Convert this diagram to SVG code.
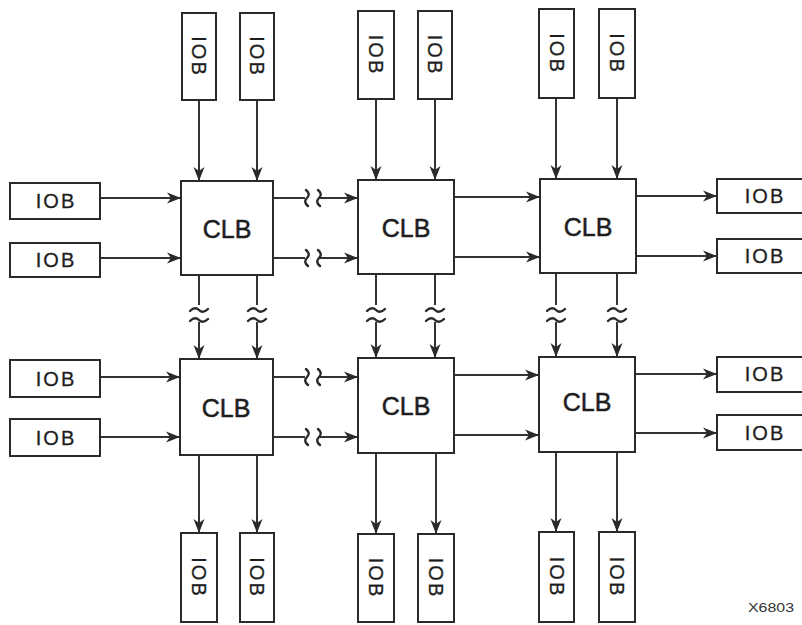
<svg xmlns="http://www.w3.org/2000/svg" xmlns:xlink="http://www.w3.org/1999/xlink" width="802" height="625" viewBox="0 0 802 625">
<style>
.box{fill:#fff;stroke:#2a2a2a;stroke-width:2}
.clbt{font-family:"Liberation Sans",Arial,sans-serif;font-size:25px;fill:#1e1e1e;text-anchor:middle;stroke:#1e1e1e;stroke-width:0.5}
.iobt{font-family:"Liberation Sans",Arial,sans-serif;font-size:20px;fill:#1e1e1e;text-anchor:middle;letter-spacing:2px;stroke:#1e1e1e;stroke-width:0.3}
.w{fill:none;stroke:#333;stroke-width:2}
.sq{fill:none;stroke:#2a2a2a;stroke-width:2.4;stroke-linecap:round}
.lbl{font-family:"Liberation Sans",Arial,sans-serif;font-size:13px;fill:#333}
</style>
<defs>
<marker id="arr" viewBox="0 0 14 12" refX="14" refY="6" markerWidth="14" markerHeight="12" orient="auto" markerUnits="userSpaceOnUse">
<path d="M0,0.5 L14,6 L0,11.5 L4,6 z" fill="#2a2a2a"/>
</marker>
<path id="vs" d="M-1,-8 Q4,-4 0,0 T1,8"/>
<path id="hs" d="M-9,1 Q-4,-4 0,0 T9,-1"/>
</defs>
<rect width="802" height="625" fill="#fff"/>

<g id="connectors">
<line class="w" x1="199" y1="100" x2="199" y2="181" marker-end="url(#arr)"/>
<line class="w" x1="257" y1="100" x2="257" y2="181" marker-end="url(#arr)"/>
<line class="w" x1="376" y1="99" x2="376" y2="180" marker-end="url(#arr)"/>
<line class="w" x1="435" y1="99" x2="435" y2="180" marker-end="url(#arr)"/>
<line class="w" x1="556" y1="98" x2="556" y2="179" marker-end="url(#arr)"/>
<line class="w" x1="617" y1="98" x2="617" y2="179" marker-end="url(#arr)"/>
<line class="w" x1="100" y1="198" x2="181" y2="198" marker-end="url(#arr)"/>
<line class="w" x1="100" y1="258" x2="181" y2="258" marker-end="url(#arr)"/>
<line class="w" x1="100" y1="377" x2="180" y2="377" marker-end="url(#arr)"/>
<line class="w" x1="100" y1="437" x2="180" y2="437" marker-end="url(#arr)"/>
<line class="w" x1="273" y1="198" x2="305" y2="198"/>
<line class="w" x1="320" y1="198" x2="358" y2="198" marker-end="url(#arr)"/>
<line class="w" x1="273" y1="258" x2="305" y2="258"/>
<line class="w" x1="320" y1="258" x2="358" y2="258" marker-end="url(#arr)"/>
<use href="#vs" class="sq" x="307" y="198"/>
<use href="#vs" class="sq" x="319" y="198"/>
<use href="#vs" class="sq" x="307" y="258"/>
<use href="#vs" class="sq" x="319" y="258"/>
<line class="w" x1="273" y1="377" x2="305" y2="377"/>
<line class="w" x1="320" y1="377" x2="358" y2="377" marker-end="url(#arr)"/>
<line class="w" x1="273" y1="437" x2="305" y2="437"/>
<line class="w" x1="320" y1="437" x2="358" y2="437" marker-end="url(#arr)"/>
<use href="#vs" class="sq" x="307" y="377"/>
<use href="#vs" class="sq" x="319" y="377"/>
<use href="#vs" class="sq" x="307" y="437"/>
<use href="#vs" class="sq" x="319" y="437"/>
<line class="w" x1="454" y1="197" x2="540" y2="197" marker-end="url(#arr)"/>
<line class="w" x1="454" y1="257" x2="540" y2="257" marker-end="url(#arr)"/>
<line class="w" x1="454" y1="375" x2="539" y2="375" marker-end="url(#arr)"/>
<line class="w" x1="454" y1="435" x2="539" y2="435" marker-end="url(#arr)"/>
<line class="w" x1="636" y1="196" x2="717" y2="196" marker-end="url(#arr)"/>
<line class="w" x1="636" y1="256" x2="717" y2="256" marker-end="url(#arr)"/>
<line class="w" x1="635" y1="374" x2="717" y2="374" marker-end="url(#arr)"/>
<line class="w" x1="635" y1="433" x2="717" y2="433" marker-end="url(#arr)"/>
<line class="w" x1="199" y1="275" x2="199" y2="305"/>
<line class="w" x1="199" y1="322" x2="199" y2="359" marker-end="url(#arr)"/>
<line class="w" x1="257" y1="275" x2="257" y2="305"/>
<line class="w" x1="257" y1="322" x2="257" y2="359" marker-end="url(#arr)"/>
<line class="w" x1="376" y1="274" x2="376" y2="305"/>
<line class="w" x1="376" y1="322" x2="376" y2="358" marker-end="url(#arr)"/>
<line class="w" x1="435" y1="274" x2="435" y2="305"/>
<line class="w" x1="435" y1="322" x2="435" y2="358" marker-end="url(#arr)"/>
<line class="w" x1="556" y1="273" x2="556" y2="305"/>
<line class="w" x1="556" y1="322" x2="556" y2="357" marker-end="url(#arr)"/>
<line class="w" x1="617" y1="273" x2="617" y2="305"/>
<line class="w" x1="617" y1="322" x2="617" y2="357" marker-end="url(#arr)"/>
<use href="#hs" class="sq" x="199" y="310"/>
<use href="#hs" class="sq" x="199" y="320"/>
<use href="#hs" class="sq" x="257" y="310"/>
<use href="#hs" class="sq" x="257" y="320"/>
<use href="#hs" class="sq" x="376" y="310"/>
<use href="#hs" class="sq" x="376" y="320"/>
<use href="#hs" class="sq" x="435" y="310"/>
<use href="#hs" class="sq" x="435" y="320"/>
<use href="#hs" class="sq" x="556" y="310"/>
<use href="#hs" class="sq" x="556" y="320"/>
<use href="#hs" class="sq" x="617" y="310"/>
<use href="#hs" class="sq" x="617" y="320"/>
<line class="w" x1="199" y1="455" x2="199" y2="533" marker-end="url(#arr)"/>
<line class="w" x1="257" y1="455" x2="257" y2="533" marker-end="url(#arr)"/>
<line class="w" x1="376" y1="453" x2="376" y2="534" marker-end="url(#arr)"/>
<line class="w" x1="436" y1="453" x2="436" y2="534" marker-end="url(#arr)"/>
<line class="w" x1="556" y1="452" x2="556" y2="532" marker-end="url(#arr)"/>
<line class="w" x1="617" y1="452" x2="617" y2="532" marker-end="url(#arr)"/>
</g>

<g id="clb1"><rect class="box" x="181" y="181" width="92" height="94"/><text class="clbt" x="227" y="238">CLB</text></g>
<g id="clb2"><rect class="box" x="358" y="180" width="96" height="94"/><text class="clbt" x="406" y="237">CLB</text></g>
<g id="clb3"><rect class="box" x="540" y="179" width="96" height="94"/><text class="clbt" x="588" y="236">CLB</text></g>
<g id="clb4"><rect class="box" x="180" y="359" width="93" height="96"/><text class="clbt" x="226" y="417">CLB</text></g>
<g id="clb5"><rect class="box" x="358" y="358" width="96" height="95"/><text class="clbt" x="406" y="415">CLB</text></g>
<g id="clb6"><rect class="box" x="539" y="357" width="96" height="95"/><text class="clbt" x="587" y="411">CLB</text></g>

<g id="iob-t1"><rect class="box" x="182" y="13" width="34" height="87"/><text class="iobt" transform="translate(199,56.5) rotate(90)" y="7">IOB</text></g>
<g id="iob-t2"><rect class="box" x="240" y="13" width="34" height="87"/><text class="iobt" transform="translate(257,56.5) rotate(90)" y="7">IOB</text></g>
<g id="iob-t3"><rect class="box" x="358" y="11" width="36" height="88"/><text class="iobt" transform="translate(376,55) rotate(90)" y="7">IOB</text></g>
<g id="iob-t4"><rect class="box" x="418" y="11" width="34" height="88"/><text class="iobt" transform="translate(435,55) rotate(90)" y="7">IOB</text></g>
<g id="iob-t5"><rect class="box" x="539" y="9" width="35" height="89"/><text class="iobt" transform="translate(556.5,53.5) rotate(90)" y="7">IOB</text></g>
<g id="iob-t6"><rect class="box" x="599" y="9" width="36" height="89"/><text class="iobt" transform="translate(617,53.5) rotate(90)" y="7">IOB</text></g>

<g id="iob-l1"><rect class="box" x="10" y="183" width="90" height="36"/><text class="iobt" x="56" y="208">IOB</text></g>
<g id="iob-l2"><rect class="box" x="10" y="243" width="90" height="34"/><text class="iobt" x="56" y="267">IOB</text></g>
<g id="iob-l3"><rect class="box" x="10" y="360" width="90" height="37"/><text class="iobt" x="56" y="386">IOB</text></g>
<g id="iob-l4"><rect class="box" x="10" y="419" width="90" height="37"/><text class="iobt" x="56" y="445">IOB</text></g>

<g id="iob-r1"><rect class="box" x="717" y="179" width="95" height="34"/><text class="iobt" x="765" y="203">IOB</text></g>
<g id="iob-r2"><rect class="box" x="717" y="239" width="95" height="34"/><text class="iobt" x="765" y="263">IOB</text></g>
<g id="iob-r3"><rect class="box" x="717" y="357" width="95" height="35"/><text class="iobt" x="765" y="381">IOB</text></g>
<g id="iob-r4"><rect class="box" x="717" y="415" width="95" height="35"/><text class="iobt" x="765" y="440">IOB</text></g>

<g id="iob-b1"><rect class="box" x="181" y="533" width="36" height="89"/><text class="iobt" transform="translate(199,577.5) rotate(90)" y="7">IOB</text></g>
<g id="iob-b2"><rect class="box" x="240" y="533" width="34" height="89"/><text class="iobt" transform="translate(257,577.5) rotate(90)" y="7">IOB</text></g>
<g id="iob-b3"><rect class="box" x="358" y="534" width="36" height="88"/><text class="iobt" transform="translate(376,578) rotate(90)" y="7">IOB</text></g>
<g id="iob-b4"><rect class="box" x="418" y="534" width="36" height="88"/><text class="iobt" transform="translate(436,578) rotate(90)" y="7">IOB</text></g>
<g id="iob-b5"><rect class="box" x="539" y="532" width="35" height="90"/><text class="iobt" transform="translate(556.5,577) rotate(90)" y="7">IOB</text></g>
<g id="iob-b6"><rect class="box" x="599" y="532" width="36" height="90"/><text class="iobt" transform="translate(617,577) rotate(90)" y="7">IOB</text></g>

<text class="lbl" x="748" y="612" textLength="46" lengthAdjust="spacingAndGlyphs">X6803</text>
</svg>
